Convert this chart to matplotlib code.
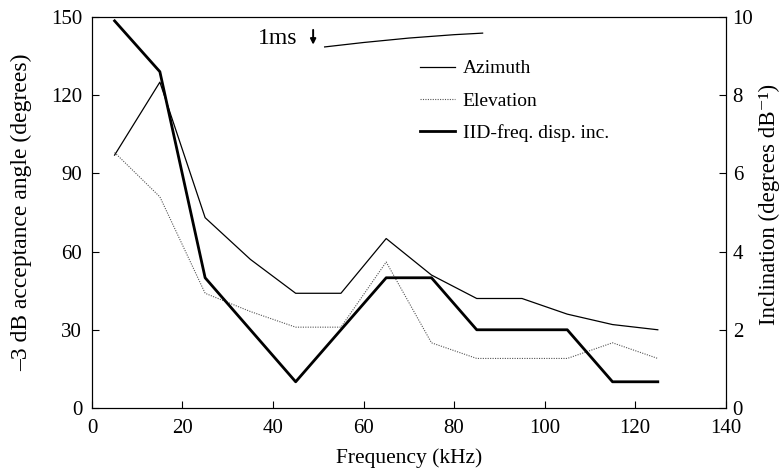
import numpy as np
import matplotlib.pyplot as plt

plt.rcParams['font.family'] = ['Liberation Serif', 'DejaVu Serif']

# data
freq = [5, 15, 25, 35, 45, 55, 65, 75, 85, 95, 105, 115, 125]
azimuth = [97, 125, 73, 57, 44, 44, 65, 51, 42, 42, 36, 32, 30]
elevation = [98, 81, 44, 37, 31, 31, 56, 25, 19, 19, 19, 25, 19]
iid_inc = [9.9, 8.6, 3.33, 2.0, 0.67, 2.0, 3.33, 3.33, 2.0, 2.0, 2.0, 0.67, 0.67]

# small waveform trace drawn at the top (1 ms scale)
trace_x = [51.4, 60, 70, 80, 86.3]
trace_y = [138.5, 140.2, 141.9, 143.2, 143.8]

fig = plt.figure(figsize=(7.82, 4.71), dpi=100)
ax = fig.add_axes([0.1176, 0.1338, 0.8104, 0.8302])
ax2 = ax.twinx()

l1, = ax.plot(freq, azimuth, color='black', lw=0.9, label='Azimuth')
l2, = ax.plot(freq, elevation, color='#555555', lw=0.8, ls=(0, (1, 1.2)), label='Elevation')
l3, = ax2.plot(freq, iid_inc, color='black', lw=2.0, label='IID-freq. disp. inc.')
ax.plot(trace_x, trace_y, color='black', lw=0.9)
ax.text(0.262, 0.946, '1ms', transform=ax.transAxes, fontsize=17, va='center', ha='left')
ax.annotate('', xy=(0.349, 0.922), xytext=(0.349, 0.974), xycoords='axes fraction',
            arrowprops=dict(arrowstyle='-|>', color='black', lw=1.4, mutation_scale=8))

ax.set_xlim(0, 140)
ax.set_ylim(0, 150)
ax2.set_ylim(0, 10)
ax.set_xticks(np.arange(0, 141, 20))
ax.set_yticks(np.arange(0, 151, 30))
ax2.set_yticks(np.arange(0, 11, 2))

ax.tick_params(direction='in', labelsize=15, length=5)
ax.tick_params(axis='x', pad=8)
ax.tick_params(axis='y', pad=7)
ax2.tick_params(direction='in', labelsize=15, length=5, pad=5)

ax.set_xlabel('Frequency (kHz)', fontsize=15.5)
ax.set_ylabel('\u20133 dB acceptance angle (degrees)', fontsize=17)
ax2.set_ylabel('Inclination (degrees dB\u207b\u00b9)', fontsize=16.5)
ax.xaxis.set_label_coords(0.5, -0.104)
ax.yaxis.set_label_coords(-0.095, 0.5)
ax2.yaxis.set_label_coords(1.052, 0.52)

ax.legend(handles=[l1, l2, l3], loc='upper left', bbox_to_anchor=(0.49, 0.935),
          frameon=False, fontsize=14, handlelength=1.8, handletextpad=0.4,
          labelspacing=0.75)

plt.savefig('out.png', dpi=100)
